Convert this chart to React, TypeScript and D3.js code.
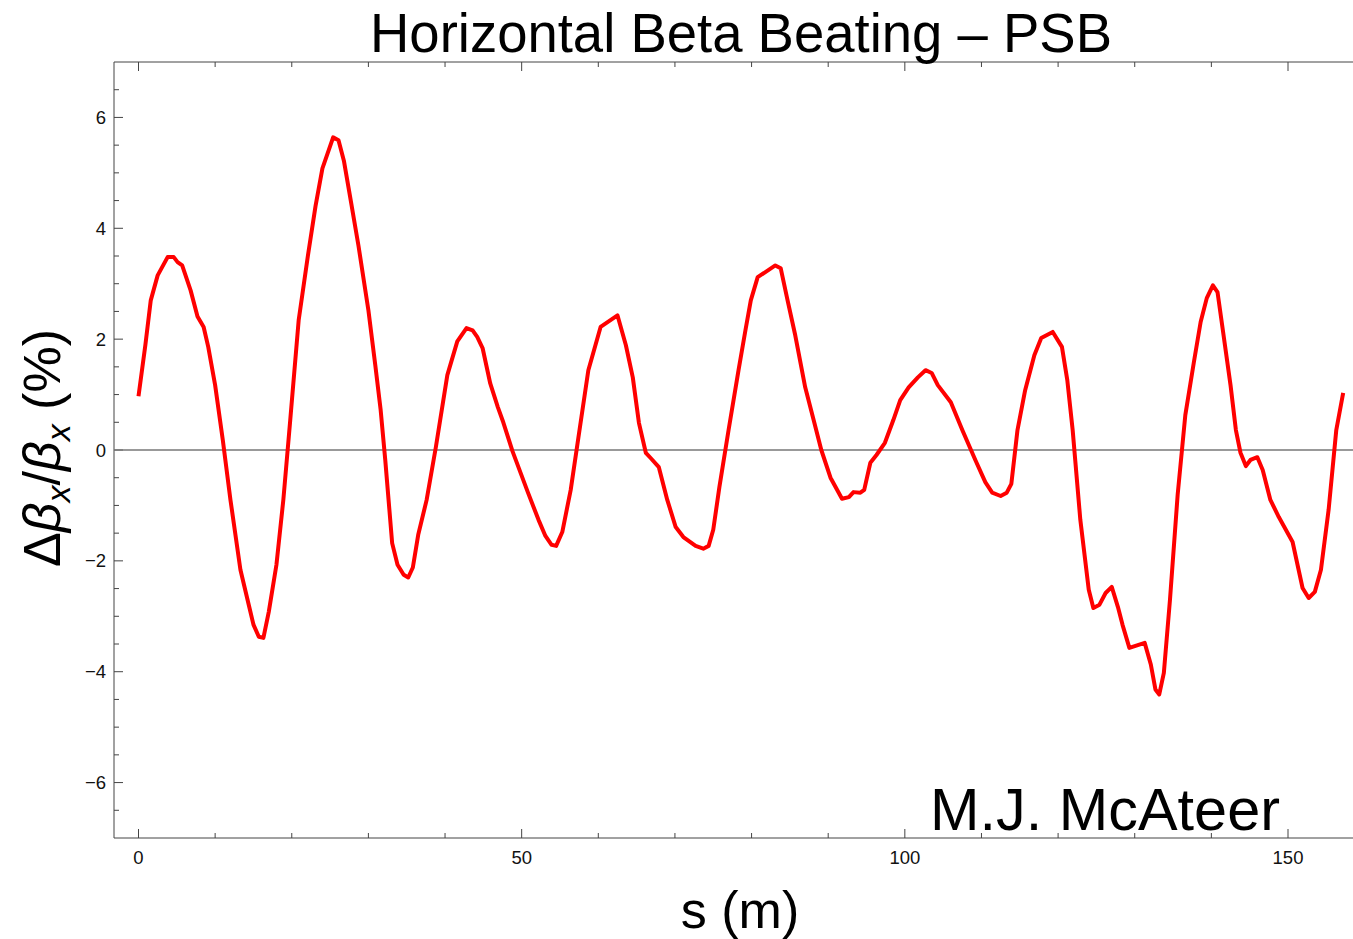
import React from "react";
import * as d3 from "d3";

const sValues = [0, 0.9, 1.6, 2.5, 3.8, 4.6, 5.1, 5.7, 6.8, 7.7, 8.5, 9.1, 10.0, 11, 12, 13.3, 14.4, 15, 15.7, 16.3, 17, 18, 18.9, 19.8, 20.9, 22.1, 23.1, 24.0, 25.4, 26.1, 26.8, 27.7, 28.7, 30.0, 30.9, 31.6, 32.2, 33.1, 33.8, 34.6, 35.2, 35.8, 36.5, 37.6, 38.8, 40.3, 41.6, 42.8, 43.6, 44.2, 44.9, 45.9, 46.9, 47.6, 48.8, 50.8, 52.2, 53.1, 53.9, 54.5, 55.3, 56.4, 57.4, 58.7, 60.3, 62.5, 63.6, 64.5, 65.3, 66.2, 66.8, 67.9, 69.0, 70.1, 71.1, 72.7, 73.7, 74.4, 75.0, 75.8, 77.0, 78.3, 79.2, 79.9, 80.8, 81.8, 83.1, 83.8, 84.7, 85.7, 87.0, 88.1, 89.1, 90.3, 91.8, 92.7, 93.3, 94.2, 94.7, 95.5, 96.3, 97.4, 98.5, 99.4, 100.5, 101.7, 102.7, 103.5, 104.3, 106.0, 107.5, 109.2, 110.5, 111.4, 112.5, 113.3, 113.9, 114.7, 115.7, 116.9, 117.8, 119.3, 120.5, 121.2, 121.9, 122.9, 124.0, 124.6, 125.4, 126.2, 127.0, 127.8, 128.4, 129.3, 131.3, 132.1, 132.7, 133.2, 133.8, 134.6, 135.6, 136.6, 137.7, 138.6, 139.4, 140.2, 140.8, 141.5, 142.5, 143.2, 143.8, 144.5, 145.1, 146.0, 146.7, 147.7, 148.8, 150.6, 151.1, 151.9, 152.7, 153.5, 154.3, 155.3, 156.3, 157.2];

const betaBeating = [0.97, 1.9, 2.7, 3.15, 3.48, 3.48, 3.39, 3.33, 2.88, 2.41, 2.22, 1.86, 1.17, 0.18, -0.9, -2.16, -2.8, -3.15, -3.37, -3.39, -2.92, -2.07, -0.9, 0.54, 2.34, 3.5, 4.4, 5.08, 5.64, 5.59, 5.22, 4.5, 3.69, 2.52, 1.53, 0.72, -0.18, -1.68, -2.07, -2.25, -2.3, -2.12, -1.53, -0.9, 0.05, 1.35, 1.96, 2.2, 2.16, 2.04, 1.84, 1.2, 0.77, 0.5, -0.02, -0.76, -1.26, -1.55, -1.71, -1.73, -1.48, -0.72, 0.22, 1.44, 2.22, 2.43, 1.89, 1.31, 0.49, -0.05, -0.14, -0.31, -0.9, -1.39, -1.57, -1.73, -1.78, -1.73, -1.44, -0.67, 0.36, 1.44, 2.16, 2.7, 3.12, 3.21, 3.33, 3.28, 2.7, 2.07, 1.13, 0.54, 0, -0.5, -0.88, -0.85, -0.76, -0.77, -0.72, -0.23, -0.09, 0.13, 0.54, 0.9, 1.13, 1.31, 1.44, 1.39, 1.17, 0.86, 0.36, -0.18, -0.58, -0.77, -0.83, -0.77, -0.61, 0.36, 1.08, 1.71, 2.02, 2.13, 1.86, 1.26, 0.36, -1.26, -2.52, -2.85, -2.79, -2.58, -2.47, -2.83, -3.15, -3.57, -3.48, -3.87, -4.32, -4.41, -4.02, -2.7, -0.81, 0.63, 1.57, 2.31, 2.74, 2.97, 2.85, 2.16, 1.17, 0.36, -0.05, -0.29, -0.18, -0.13, -0.36, -0.9, -1.21, -1.66, -1.98, -2.49, -2.67, -2.56, -2.16, -1.08, 0.36, 1.03];

const xMajorTicks = [0, 50, 100, 150];
const yMajorTicks = [-6, -4, -2, 0, 2, 4, 6];

const title = "Horizontal Beta Beating \u2013 PSB";
const xLabel = "s (m)";
const watermark = "M.J. McAteer";

const W = 1353;
const H = 939;
const left = 114;
const right = 1353;
const top = 62;
const bottom = 838;
const FONT = "'Liberation Sans', Arial, Helvetica, sans-serif";

export default function App() {
  const x = d3.scaleLinear().domain([0, 150]).range([138.5, 1288]);
  const y = d3.scaleLinear().domain([-7, 7]).range([bottom, top]);
  const data = sValues.map((s, i) => [s, betaBeating[i]] as [number, number]);
  const line = d3
    .line<[number, number]>()
    .x((d) => x(d[0]))
    .y((d) => y(d[1]));

  const xMinor = d3.range(0, 160, 10).filter((v) => x(v) <= right);
  const yMinor = d3.range(-6.5, 7, 0.5);

  const tickColor = "#444";
  return (
    <svg
      width={W}
      height={H}
      style={{ position: "absolute", left: 0, top: 0, background: "#fff" }}
      fontFamily={FONT}
    >
      {/* frame */}
      <line x1={left} x2={right} y1={top} y2={top} stroke={tickColor} strokeWidth={1} />
      <line x1={left} x2={right} y1={bottom} y2={bottom} stroke={tickColor} strokeWidth={1} />
      <line x1={left} x2={left} y1={top} y2={bottom} stroke={tickColor} strokeWidth={1} />

      {/* x ticks */}
      {xMinor.map((v) => {
        const major = v % 50 === 0;
        const len = major ? 9 : 5;
        return (
          <g key={"xt" + v}>
            <line x1={x(v)} x2={x(v)} y1={bottom} y2={bottom - len} stroke={tickColor} strokeWidth={1} />
            <line x1={x(v)} x2={x(v)} y1={top} y2={top + len} stroke={tickColor} strokeWidth={1} />
          </g>
        );
      })}
      {xMajorTicks.map((v) => (
        <text key={"xl" + v} x={x(v)} y={864} textAnchor="middle" fontSize={18.5} fill="#111">
          {v}
        </text>
      ))}

      {/* y ticks */}
      {yMinor.map((v) => {
        const major = Math.abs(v % 2) < 1e-9;
        const len = major ? 9 : 5;
        return (
          <line key={"yt" + v} x1={left} x2={left + len} y1={y(v)} y2={y(v)} stroke={tickColor} strokeWidth={1} />
        );
      })}
      {yMajorTicks.map((v) => (
        <text key={"yl" + v} x={106} y={y(v) + 6.5} textAnchor="end" fontSize={18.5} fill="#111">
          {v < 0 ? "\u2212" + Math.abs(v) : v}
        </text>
      ))}

      {/* zero line */}
      <line x1={left} x2={right} y1={y(0)} y2={y(0)} stroke="#777" strokeWidth={1.5} />

      {/* data */}
      <path d={line(data) || ""} fill="none" stroke="#ff0000" strokeWidth={4} strokeLinejoin="round" />

      {/* title */}
      <text x={741} y={52} textAnchor="middle" fontSize={55} fill="#000" textLength={742} lengthAdjust="spacingAndGlyphs">
        {title}
      </text>

      {/* x label */}
      <text x={740} y={928} textAnchor="middle" fontSize={52} fill="#000">
        {xLabel}
      </text>

      {/* y label */}
      <text transform="translate(60,448) rotate(-90)" textAnchor="middle" fontSize={52} fill="#000">
        <tspan>Δ</tspan>
        <tspan fontStyle="italic">β</tspan>
        <tspan fontStyle="italic" fontSize={34} dy={10}>x</tspan>
        <tspan dy={-10}>/</tspan>
        <tspan fontStyle="italic">β</tspan>
        <tspan fontStyle="italic" fontSize={34} dy={10}>x</tspan>
        <tspan dy={-10}> (%)</tspan>
      </text>

      {/* watermark */}
      <text x={1105} y={830} textAnchor="middle" fontSize={59} fill="#000" textLength={350} lengthAdjust="spacingAndGlyphs">
        {watermark}
      </text>
    </svg>
  );
}
